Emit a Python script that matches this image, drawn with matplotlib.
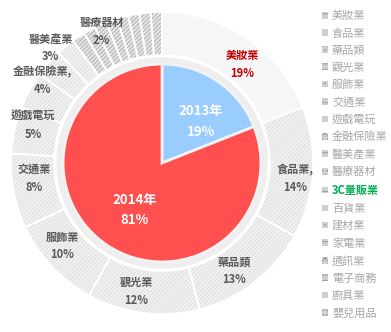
import numpy as np
import matplotlib.pyplot as plt
from matplotlib.patches import Patch, Circle

plt.rcParams['font.family'] = ['Noto Sans CJK TC', 'DejaVu Sans']
plt.rcParams['hatch.linewidth'] = 0.5

# outer ring: industries (2014)
industries = ['美妝業', '食品業', '藥品類', '觀光業', '服飾業', '交通業', '遊戲電玩',
              '金融保險業', '醫美產業', '醫療器材', '3C量販業', '百貨業', '建材業',
              '家電業', '通訊業', '電子商務', '廚具業', '嬰兒用品']
shares = [19, 14, 13, 12, 10, 8, 5, 4, 3, 2, 1.4, 1.3, 1.3, 1.2, 1.2, 1.2, 1.2, 1.2]
slice_labels = ['美妝業', '食品業,', '藥品類', '觀光業', '服飾業', '交通業', '遊戲電玩',
                '金融保險業,', '醫美產業', '醫療器材']
slice_pcts = ['19%', '14%', '13%', '12%', '10%', '8%', '5%', '4%', '3%', '2%']

# inner pie: year share
years = ['2013年', '2014年']
year_shares = [19, 81]
year_pcts = ['19%', '81%']

# label nudges (clockwise degrees, radius) to mimic the original placement
label_shift = [5, 3, 4, 4, 3.5, 4, 3.7, 5.8, 4.6, 15]
label_rad = [0.84, 0.89, 0.86, 0.87, 0.86, 0.85, 0.89, 0.96, 1.06, 0.96]
year_shift = [8.8, -4]
year_rad = [0.377, 0.36]

W, H = 391, 332
fig = plt.figure(figsize=(W / 100, H / 100), dpi=100)
cx, cy, R = 162, 163, 151
ax = fig.add_axes([(cx - R) / W, (H - cy - R) / H, 2 * R / W, 2 * R / H])

face = ['#f6f6f6'] + ['#f1f1f1'] * 9 + ['#e4e4e4'] * 8
hcol = ['#f6f6f6'] + ['#d9d9d9'] * 9 + ['#a0a0a0'] * 8
hatches = [None] + ['////////'] * 9 + ['////////'] * 8

wedges, _ = ax.pie(shares, radius=1.0, startangle=90, counterclock=False,
                   wedgeprops=dict(width=0.285, linewidth=0))
for w, fc, hc, ht in zip(wedges, face, hcol, hatches):
    w.set_facecolor(fc)
    w.set_edgecolor(hc)
    if ht:
        w.set_hatch(ht)
# white separators
ax.pie(shares, radius=1.0, startangle=90, counterclock=False,
       wedgeprops=dict(width=0.285, facecolor='none', edgecolor='white', linewidth=1.3))

# inner pie with soft grey rim
ax.add_patch(Circle((0, 0), 0.70, facecolor='#eeeeee', edgecolor='none'))
iw, _ = ax.pie(year_shares, radius=0.655, startangle=90, counterclock=False,
               colors=['#99ccff', '#ff4f4f'],
               wedgeprops=dict(edgecolor='#f2f2f2', linewidth=2))

for i, (w, name, pct) in enumerate(zip(iw, years, year_pcts)):
    a = np.deg2rad((w.theta1 + w.theta2) / 2 - year_shift[i])
    ax.text(year_rad[i] * np.cos(a), year_rad[i] * np.sin(a), name + '\n' + pct,
            ha='center', va='center', color='white', fontsize=9.5, fontweight='bold',
            linespacing=1.6)

for i, (name, pct) in enumerate(zip(slice_labels, slice_pcts)):
    w = wedges[i]
    a = np.deg2rad((w.theta1 + w.theta2) / 2 - label_shift[i])
    col = '#c00000' if i == 0 else '#595959'
    ax.text(label_rad[i] * np.cos(a), label_rad[i] * np.sin(a), name + '\n' + pct,
            ha='center', va='center', color=col, fontsize=8, fontweight='bold',
            linespacing=1.5)

ax.set_xlim(-1, 1)
ax.set_ylim(-1, 1)
ax.axis('off')

leg_hatch = ['---', '===', '....', '---', '....', '---', '====', 'xxxx', '---', '....',
             '---', '===', '....', '---', 'xxxx', '---', '===', 'xxxx']
handles = [Patch(facecolor='#d0d0d0', edgecolor='#8a8a8a', hatch=h, linewidth=0) for h in leg_hatch]
leg = fig.legend(handles, industries, loc='upper left', bbox_to_anchor=(322 / W, 1 - 11 / H),
                 frameon=False, fontsize=8, handlelength=0.55, handleheight=0.55,
                 handletextpad=0.35, labelspacing=0.615, borderpad=0, borderaxespad=0)
for t in leg.get_texts():
    if t.get_text() == '3C量販業':
        t.set_color('#00b050')
        t.set_fontweight('bold')
    else:
        t.set_color('#a6a6a6')

fig.savefig('out.png', dpi=100)
